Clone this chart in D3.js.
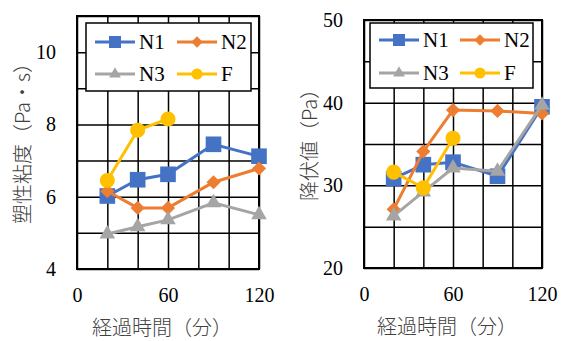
<!DOCTYPE html>
<html><head><meta charset="utf-8">
<script src="https://cdn.jsdelivr.net/npm/d3@7"></script>
<style>
body{margin:0;background:#fff;}
svg{display:block;}
</style></head>
<body>
<svg id="c" width="563" height="341"></svg>
<script>
// ---- data ----
const times = [20, 40, 60, 90, 120];
const timesF = [20, 40, 60];
const seriesNames = ["N1", "N2", "N3", "F"];
const colors = ["#4472C4", "#ED7D31", "#A5A5A5", "#FFC000"];
const markers = ["square", "diamond", "triangle", "circle"];

// Left chart: plastic viscosity (Pa·s)
const viscN1 = [6.02, 6.47, 6.62, 7.45, 7.12];
const viscN2 = [6.15, 5.69, 5.69, 6.40, 6.78];
const viscN3 = [4.97, 5.17, 5.36, 5.83, 5.50];
const viscF  = [6.45, 7.84, 8.15];

// Right chart: yield value (Pa)
const yieldN1 = [30.8, 32.5, 32.8, 31.1, 39.5];
const yieldN2 = [27.1, 34.1, 39.1, 39.0, 38.7];
const yieldN3 = [26.3, 29.2, 32.1, 31.7, 39.7];
const yieldF  = [31.6, 29.7, 35.7];

const xTickLabels = [0, 60, 120];
const leftYTickLabels = [4, 6, 8, 10];
const rightYTickLabels = [20, 30, 40, 50];
const xTitle = "経過時間（分）";
const leftYTitle = "塑性粘度（Pa・s）";
const rightYTitle = "降伏値（Pa）";

const SERIF = "Liberation Serif";
const JP = "Noto Sans CJK JP";

const svg = d3.select("#c");

function markerPath(type, size){
  const sym = {square:d3.symbolSquare, diamond:d3.symbolSquare, triangle:d3.symbolTriangle, circle:d3.symbolCircle}[type];
  return d3.symbol().type(sym).size(size)();
}
function markerRot(type){ return type === "diamond" ? " rotate(45)" : ""; }
const markerSizes = {square:245, diamond:100, triangle:105, circle:180};
const legendMarkerSizes = {square:144, diamond:64, triangle:60, circle:95};

function drawChart(cfg){
  const g = svg.append("g");
  const x = d3.scaleLinear().domain([0,120]).range([cfg.left, cfg.right]);
  const y = d3.scaleLinear().domain(cfg.yDomain).range([cfg.bottom, cfg.top]);
  const H = cfg.bottom - cfg.top, W = cfg.right - cfg.left;

  // grid
  g.append("g").attr("transform",`translate(0,${cfg.bottom})`)
    .call(d3.axisBottom(x).tickValues(d3.range(0,121,20)).tickSize(-H).tickFormat(""))
    .call(a=>a.select(".domain").remove())
    .call(a=>a.selectAll("line").attr("stroke","#000").attr("stroke-width",1.5));
  g.append("g").attr("transform",`translate(${cfg.left},0)`)
    .call(d3.axisLeft(y).tickValues(d3.range(cfg.yDomain[0], cfg.yDomain[1]+0.001, cfg.gridStep)).tickSize(-W).tickFormat(""))
    .call(a=>a.select(".domain").remove())
    .call(a=>a.selectAll("line").attr("stroke","#000").attr("stroke-width",1.5));
  g.append("rect").attr("x",cfg.left).attr("y",cfg.top).attr("width",W).attr("height",H)
    .attr("fill","none").attr("stroke","#000").attr("stroke-width",2);

  // tick labels
  g.append("g").attr("transform",`translate(0,${cfg.bottom})`)
    .call(d3.axisBottom(x).tickValues(xTickLabels).tickFormat(d3.format("d")).tickSize(0).tickPadding(19))
    .call(a=>a.select(".domain").remove())
    .attr("font-family",SERIF).attr("font-size",20)
    .call(a=>a.selectAll("text").attr("fill","#000"));
  g.append("g").attr("transform",`translate(${cfg.left},0)`)
    .call(d3.axisLeft(y).tickValues(cfg.yTicks).tickFormat(d3.format("d")).tickSize(0).tickPadding(21))
    .call(a=>a.select(".domain").remove())
    .attr("font-family",SERIF).attr("font-size",20)
    .call(a=>a.selectAll("text").attr("fill","#000"));

  // titles
  g.append("text").attr("x",(cfg.left+cfg.right)/2 - 6).attr("y",cfg.bottom+66)
    .attr("font-family",JP).attr("font-size",20).attr("font-weight",300)
    .attr("text-anchor","middle").attr("fill","#404040").text(xTitle);
  g.append("text").attr("transform",`translate(${cfg.yTitleX},${(cfg.top+cfg.bottom)/2 - 4}) rotate(-90)`)
    .attr("font-family",JP).attr("font-size",20).attr("font-weight",300)
    .attr("text-anchor","middle").attr("dominant-baseline","central").attr("fill","#404040").text(cfg.yTitle);

  // series
  const line = d3.line().x(d=>x(d[0])).y(d=>y(d[1]));
  cfg.series.forEach((vals,i)=>{
    const xs = vals.length === times.length ? times : timesF;
    const pts = vals.map((v,j)=>[xs[j], v]);
    g.append("path").attr("d",line(pts)).attr("fill","none").attr("stroke",colors[i]).attr("stroke-width",3);
    g.selectAll(null).data(pts).enter().append("path")
      .attr("transform",d=>`translate(${x(d[0])},${y(d[1])})${markerRot(markers[i])}`)
      .attr("d",markerPath(markers[i], markerSizes[markers[i]])).attr("fill",colors[i]);
  });

  // legend
  const L = cfg.legend;
  g.append("rect").attr("x",L.x).attr("y",L.y).attr("width",L.w).attr("height",L.h)
    .attr("fill","#fff").attr("stroke","#000").attr("stroke-width",1.5);
  seriesNames.forEach((n,i)=>{
    const col = i%2, row = Math.floor(i/2);
    const lx = L.cols[col], ly = L.rows[row];
    g.append("line").attr("x1",lx).attr("x2",lx+40).attr("y1",ly).attr("y2",ly).attr("stroke",colors[i]).attr("stroke-width",3);
    g.append("path").attr("transform",`translate(${lx+20},${ly})${markerRot(markers[i])}`)
      .attr("d",markerPath(markers[i], legendMarkerSizes[markers[i]])).attr("fill",colors[i]);
    g.append("text").attr("x",lx+44).attr("y",ly).attr("dy","0.35em")
      .attr("font-family",SERIF).attr("font-size",21).attr("fill","#000").text(n);
  });
}

drawChart({left:77,right:259,top:16,bottom:269,yDomain:[4,11],gridStep:1,yTicks:leftYTickLabels,
  yTitle:leftYTitle,yTitleX:21,
  series:[viscN1,viscN2,viscN3,viscF],
  legend:{x:86,y:23,w:165,h:68,cols:[95,177],rows:[42,74]}});
drawChart({left:364,right:542,top:20,bottom:268,yDomain:[20,50],gridStep:5,yTicks:rightYTickLabels,
  yTitle:rightYTitle,yTitleX:308,
  series:[yieldN1,yieldN2,yieldN3,yieldF],
  legend:{x:370,y:23,w:163,h:65,cols:[379,460],rows:[40,73]}});
</script>
</body></html>
